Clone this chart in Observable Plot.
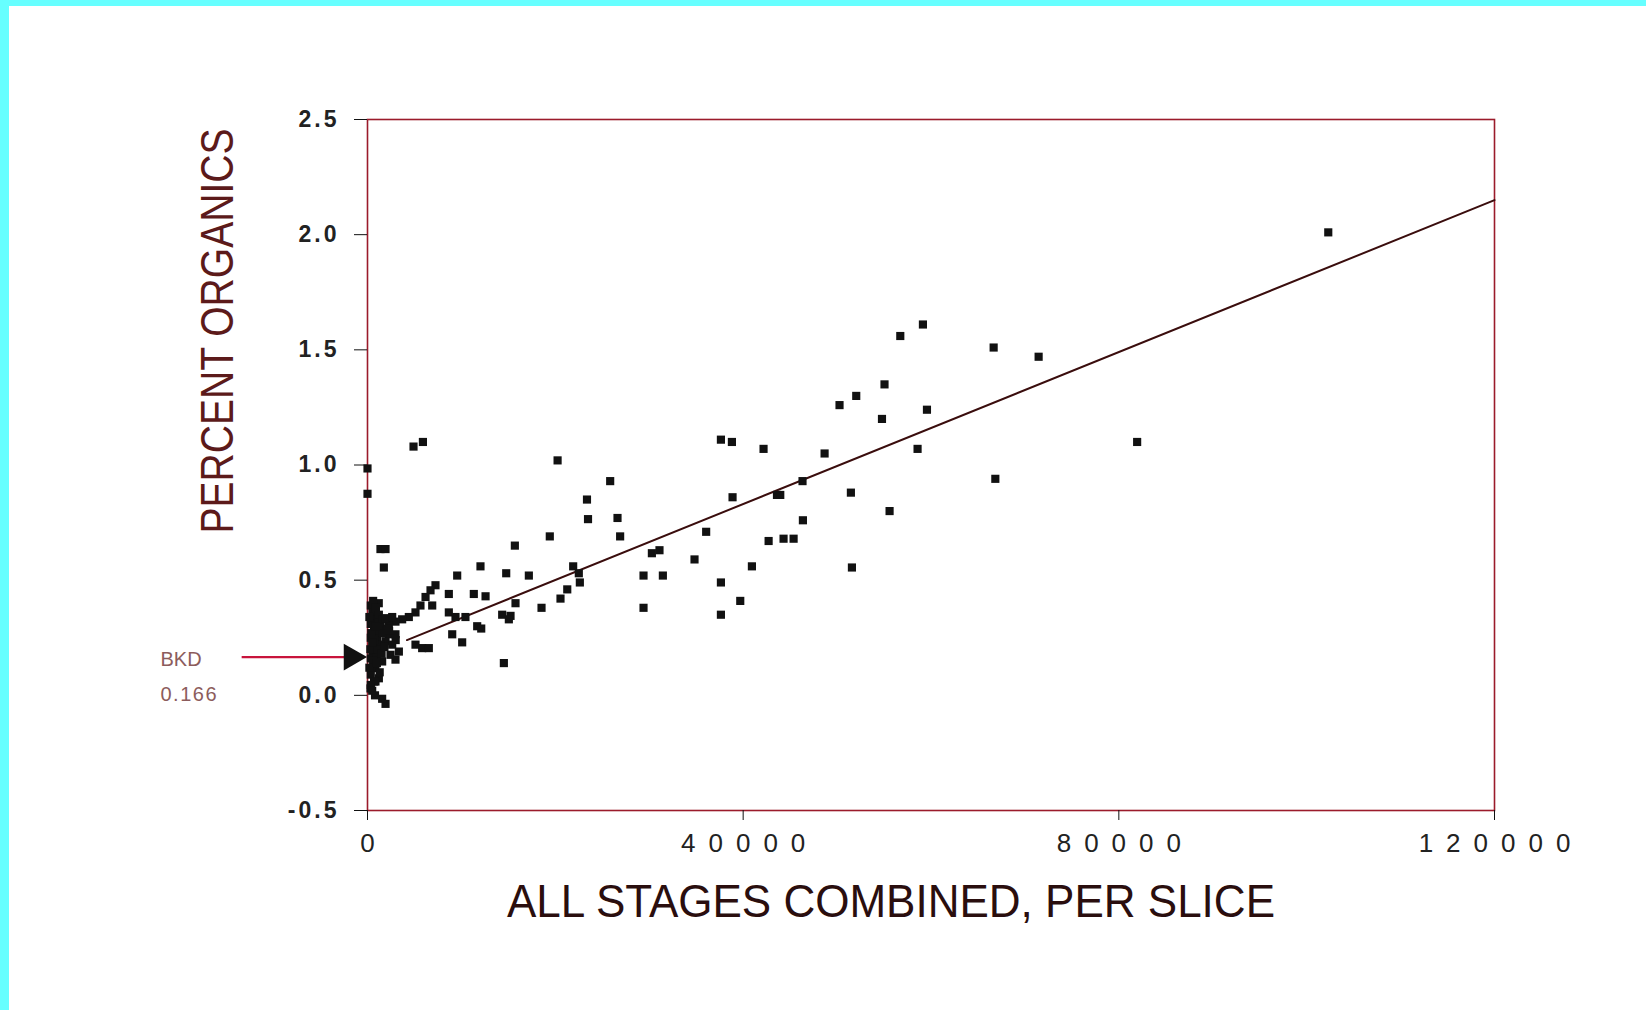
<!DOCTYPE html>
<html><head><meta charset="utf-8">
<script src="https://cdn.jsdelivr.net/npm/d3@7"></script>
<script src="https://cdn.jsdelivr.net/npm/@observablehq/plot@0.6"></script>
<style>
html,body{margin:0;padding:0;background:#fff;width:1646px;height:1010px;overflow:hidden;}
#chart{position:absolute;left:0;top:0;}
#topbar{position:absolute;left:0;top:0;width:1646px;height:6px;background:#66ffff;}
#leftbar{position:absolute;left:0;top:0;width:9px;height:1010px;background:#66ffff;}
</style></head><body>
<div id="chart"></div><div id="topbar"></div><div id="leftbar"></div>
<script>
// Scatter data: ALL STAGES COMBINED, PER SLICE (x) vs PERCENT ORGANICS (y)
const xValues = [
  102300, 81950, 71460, 66670, 66850, 59140, 56730, 59570, 58570, 55050,
  54780, 52040, 50260, 55590, 51470, 51580, 48670, 46320, 46360, 43600,
  43950, 44300, 45370, 42710, 42170, 40930, 39690, 38870, 37630, 38800,
  37630, 37630, 36060, 34820, 31450, 31090, 30280, 29390, 29390, 26900,
  26620, 25840, 23370, 23480, 20240, 19410,
  15690, 12030, 14770, 17180, 21900, 22500, 22610, 21270, 20550, 18530,
  11320, 12570, 15760, 15230, 14340, 15050, 11680, 12110, 14520,
  1380, 1920, 1740, 1200, 9550, 8660, 7240, 6710, 6180, 6890,
  5640, 5110, 4400, 3690, 2980, 2270, 8660, 9370, 10430, 9020,
  10080, 5110, 5820, 6530, 2270, 2980, 1920, 2630, 3340, 2450,
  2980, 1560, 850, 1210, 850, 320, 1560, 1920,
  350, 530, 850, 350, 700, 350, 850, 530, 350, 1000,
  700, 350, 700, 350, 1210, 1380, 1030, 1380, 1560, 1920,
  2630, 2100, 200, 600, 900, 300, 600, 1100, 200, 500,
  800, 1200, 1600, 0, 0, 4900, 5900,
  400, 700, 1000, 1300, 500, 900, 1500, 1800, 2300, 3000
];
const yValues = [
  2.01, 1.10, 1.47, 1.51, 0.94, 1.61, 1.56, 1.24, 1.07, 1.35,
  1.20, 1.30, 1.26, 0.80, 0.88, 0.555, 1.05, 0.93, 0.76, 0.87,
  0.87, 0.68, 0.68, 0.67, 1.07, 0.56, 0.41, 0.86, 1.11, 1.10,
  0.49, 0.35, 0.71, 0.59, 0.52, 0.63, 0.617, 0.52, 0.38, 0.69,
  0.77, 0.93, 0.85, 0.765, 1.02, 0.69,
  0.65, 0.56, 0.53, 0.52, 0.56, 0.53, 0.49, 0.46, 0.42, 0.38,
  0.44, 0.43, 0.40, 0.345, 0.35, 0.33, 0.30, 0.29, 0.14,
  0.635, 0.635, 0.555, 0.40, 0.52, 0.44, 0.478, 0.456, 0.427, 0.39,
  0.39, 0.36, 0.34, 0.33, 0.32, 0.31, 0.36, 0.34, 0.34, 0.265,
  0.23, 0.22, 0.205, 0.205, 0.265, 0.265, 0.235, 0.22, 0.19, 0.176,
  0.155, 0.147, 0.118, 0.074, 0.06, 0.03, -0.015, -0.037,
  0.39, 0.36, 0.33, 0.31, 0.28, 0.25, 0.22, 0.19, 0.16, 0.17,
  0.12, 0.09, 0.06, 0.045, 0.35, 0.30, 0.25, 0.22, 0.33, 0.335,
  0.34, 0.29, 0.34, 0.41, 0.38, 0.20, 0.15, 0.20, 0.12, 0.02,
  0.00, 0.28, 0.27, 0.985, 0.875, 1.08, 1.10,
  0.27, 0.24, 0.14, 0.10, 0.23, 0.30, 0.18, 0.21, 0.28, 0.24
];
// Fitted line end points
const fitX = [4200, 120000];
const fitY = [0.24, 2.15];
// Axis ticks
const xTicks = [0, 40000, 80000, 120000];
const yTicks = [-0.5, 0, 0.5, 1, 1.5, 2, 2.5];
// Background annotation
const bkdValue = 0.166;
const bkdLabels = ["BKD", "0.166"];
const xTitle = "ALL STAGES COMBINED, PER SLICE";
const yTitle = "PERCENT ORGANICS";

const points = xValues.map((x, i) => ({x, y: yValues[i]}));
const fit = fitX.map((x, i) => ({x, y: fitY[i]}));
const sans = "'Liberation Sans', Arial, Helvetica, sans-serif";

const plot = Plot.plot({
  width: 1646, height: 1010,
  marginLeft: 367, marginRight: 152, marginTop: 119, marginBottom: 200,
  x: {domain: [0, 120000], label: null},
  y: {domain: [-0.5, 2.5], label: null},
  style: {background: "transparent", fontFamily: sans, color: "#111", overflow: "visible"},
  marks: [
    Plot.frame({stroke: "#9b1b2b", strokeWidth: 1.6}),
    Plot.axisY(yTicks, {tickSize: 13, tickPadding: 15, tickFormat: d => d.toFixed(1), fontSize: 23, fontWeight: "bold", fill: "#222", stroke: "#111", label: null}),
    Plot.axisX(xTicks, {tickSize: 10, tickPadding: 13, tickFormat: d => String(d), fontSize: 26, fill: "#222", stroke: "#111", label: null}),
    Plot.line(fit, {x: "x", y: "y", stroke: "#3a0d0d", strokeWidth: 2}),
    Plot.dot(points, {x: "x", y: "y", symbol: "square", r: 4.6, fill: "#111", stroke: null}),
    Plot.link([bkdValue], {x1: -13400, x2: -2400, y1: d => d, y2: d => d, stroke: "#c8143c", strokeWidth: 2.2, clip: false}),
    Plot.dot([bkdValue], {x: -1700, y: d => d, symbol: "triangle", rotate: 90, r: 10, fill: "#111", stroke: null, clip: false}),
    Plot.text([bkdLabels[0]], {frameAnchor: "left", y: () => bkdValue, dx: -207, dy: 2, textAnchor: "start", fontSize: 20, fill: "#8c5c5c"}),
    Plot.text([bkdLabels[1]], {frameAnchor: "left", y: () => bkdValue, dx: -207, dy: 37, textAnchor: "start", fontSize: 20, fill: "#8c5c5c"}),
    Plot.text([yTitle], {frameAnchor: "top-left", dx: -168, dy: 414, rotate: -90, textAnchor: "start", fontSize: 47, fill: "#5c1a1a"}),
    Plot.text([xTitle], {frameAnchor: "bottom", dx: -424, dy: 106, textAnchor: "start", fontSize: 47, fill: "#2a0e0e"})
  ]
});
document.getElementById("chart").appendChild(plot);

// letter spacing on tick labels, fixed lengths for titles
plot.querySelectorAll('[aria-label="x-axis tick label"] text').forEach(t => {
  t.setAttribute("letter-spacing", "13");
  t.setAttribute("dx", "6.5");
});
plot.querySelectorAll('[aria-label="y-axis tick label"] text').forEach(t => {
  t.setAttribute("letter-spacing", "3");
});
plot.querySelectorAll("text").forEach(t => {
  if (t.textContent === xTitle) { t.setAttribute("textLength", "768"); t.setAttribute("lengthAdjust", "spacingAndGlyphs"); }
  if (t.textContent === yTitle) { t.setAttribute("textLength", "405"); t.setAttribute("lengthAdjust", "spacingAndGlyphs"); }
  if (t.textContent === bkdLabels[1]) { t.setAttribute("letter-spacing", "1.5"); }
});
</script>
</body></html>
